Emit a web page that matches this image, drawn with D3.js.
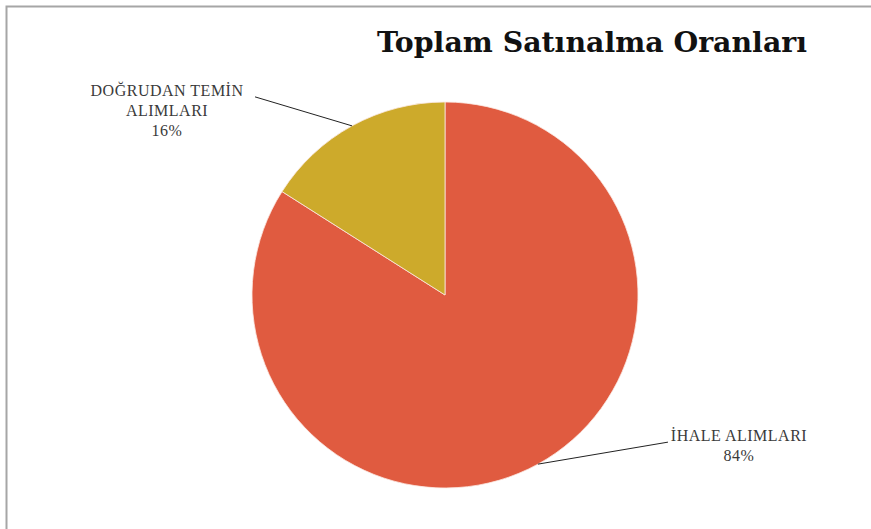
<!DOCTYPE html>
<html lang="tr">
<head>
<meta charset="UTF-8">
<title>Toplam Satınalma Oranları</title>
<style>
  body { margin: 0; background: #fff; }
  svg { display: block; }
  .title { font-family: 'DejaVu Serif', 'Liberation Serif', serif; font-weight: bold; fill: #111; }
  .lbl { font-family: 'Liberation Serif', 'DejaVu Serif', serif; font-size: 16px; letter-spacing: 0.5px; fill: #3a3a3a; }
</style>
</head>
<body>
<div id="chart"></div>
<script src="https://cdnjs.cloudflare.com/ajax/libs/d3/7.8.5/d3.min.js"></script>
<script>
  // data
  const categories = ['İHALE ALIMLARI', 'DOĞRUDAN TEMİN ALIMLARI'];
  const values = [84, 16];
  const labelLines = [['İHALE ALIMLARI'], ['DOĞRUDAN TEMİN', 'ALIMLARI']];
  const colors = ['#e05b40', '#cdaa2b'];

  const W = 871, H = 529;
  const cx = 445, cy = 295, radius = 193;

  // where the leader line ends, relative to the edge point of the slice
  const leader = [{ dx: 130, dy: -22, tx: 71, ty: -1 }, { dx: -97, dy: -29, tx: -88, ty: -1 }];

  const svg = d3.select('#chart').append('svg')
    .attr('width', W).attr('height', H);

  // frame
  svg.append('rect')
    .attr('x', 6.5).attr('y', 6.5)
    .attr('width', W + 20).attr('height', H + 20)
    .attr('fill', '#fff')
    .attr('stroke', '#a6a6a6')
    .attr('stroke-width', 2);

  svg.append('text')
    .attr('class', 'title')
    .attr('x', 592).attr('y', 52)
    .attr('text-anchor', 'middle')
    .attr('font-size', 27)
    .attr('textLength', 430)
    .attr('lengthAdjust', 'spacingAndGlyphs')
    .text('Toplam Satınalma Oranları');

  const data = categories.map((c, i) => ({ name: c, value: values[i], i: i }));
  const pie = d3.pie().sort(null).value(d => d.value);
  const arc = d3.arc().innerRadius(0).outerRadius(radius);
  const arcs = pie(data);

  const g = svg.append('g').attr('transform', 'translate(' + cx + ',' + cy + ')');

  g.selectAll('path.slice')
    .data(arcs)
    .enter().append('path')
    .attr('class', 'slice')
    .attr('d', arc)
    .attr('fill', d => colors[d.data.i])
    .attr('stroke', '#fbe9e2')
    .attr('stroke-width', 0.8);

  const total = d3.sum(values);

  arcs.forEach(function (d) {
    const mid = (d.startAngle + d.endAngle) / 2;
    const ex = radius * Math.sin(mid), ey = -radius * Math.cos(mid);
    const L = leader[d.data.i];
    const lx = ex + L.dx, ly = ey + L.dy;

    g.append('line')
      .attr('x1', ex).attr('y1', ey)
      .attr('x2', lx).attr('y2', ly)
      .attr('stroke', '#222')
      .attr('stroke-width', 1);

    const lines = labelLines[d.data.i].concat([Math.round(d.data.value / total * 100) + '%']);
    const t = g.append('text')
      .attr('class', 'lbl')
      .attr('text-anchor', 'middle')
      .attr('x', lx + L.tx)
      .attr('y', ly + L.ty);
    lines.forEach(function (s, k) {
      t.append('tspan')
        .attr('x', lx + L.tx)
        .attr('dy', k === 0 ? 0 : 20)
        .text(s);
    });
  });
</script>
</body>
</html>
